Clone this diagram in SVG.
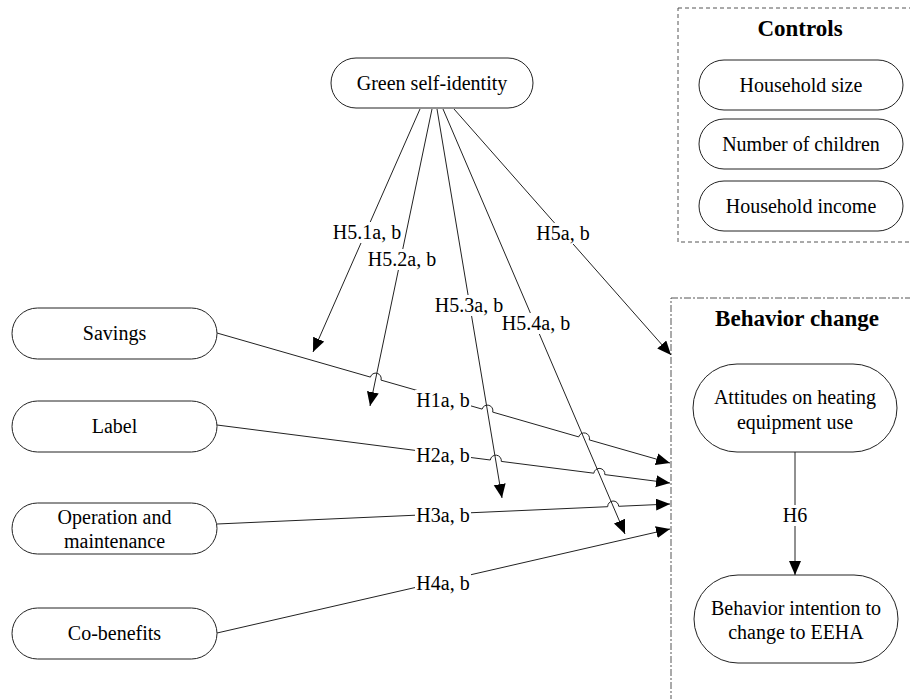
<svg xmlns="http://www.w3.org/2000/svg" width="910" height="699" viewBox="0 0 910 699">
<defs>
<marker id="arr" markerUnits="userSpaceOnUse" markerWidth="15" markerHeight="13" refX="14" refY="6" orient="auto">
<path d="M0,0 L14,6 L0,12 z" fill="#000"/>
</marker>
<style>
.node{fill:#fff;stroke:#222;stroke-width:1}
.t{font-size:20px;fill:#000;text-anchor:middle}
.title{font-size:23px;font-weight:bold;fill:#000;text-anchor:middle}
.edge{fill:none;stroke:#222;stroke-width:1}
.lbl{fill:#fff}
</style>
</defs>
<rect width="910" height="699" fill="#fff"/>
<g font-family="'Liberation Serif', 'Times New Roman', 'DejaVu Serif', serif">
<g id="controls-box">
<rect x="678" y="8" width="240" height="234" fill="none" stroke="#555" stroke-width="1" stroke-dasharray="4 3"/>
<text class="title" x="800" y="36">Controls</text>
</g>
<g id="behavior-box">
<rect x="671" y="298" width="250" height="420" fill="none" stroke="#555" stroke-width="1" stroke-dasharray="7 2 2 2"/>
<text class="title" x="797" y="326">Behavior change</text>
</g>

<g id="connectors">
<path class="edge" d="M420,109 L313,352" marker-end="url(#arr)"/>
<path class="edge" d="M432,109 L370,406" marker-end="url(#arr)"/>
<path class="edge" d="M437,109 L502,498" marker-end="url(#arr)"/>
<path class="edge" d="M443,109 L625,534" marker-end="url(#arr)"/>
<path class="edge" d="M454,109 L671,355" marker-end="url(#arr)"/>
<path class="edge" d="M217,333 L370.4,377.1 A5.5 5.5 0 0 1 381.0,380.1 L482.1,409.1 A5.5 5.5 0 0 1 492.7,412.1 L578.7,436.9 A5.5 5.5 0 0 1 589.3,439.9 L670,463" marker-end="url(#arr)"/>
<path class="edge" d="M217,425 L490.3,460.0 A5.5 5.5 0 0 1 501.3,461.4 L593.8,473.2 A5.5 5.5 0 0 1 604.8,474.6 L670,483" marker-end="url(#arr)"/>
<path class="edge" d="M217,524 L607.7,506.7 A5.5 5.5 0 0 1 618.7,506.3 L670,504" marker-end="url(#arr)"/>
<path class="edge" d="M217,633 L670,529" marker-end="url(#arr)"/>
<path class="edge" d="M795,452 L795,575" marker-end="url(#arr)"/>

<rect class="lbl" x="332" y="222" width="70" height="21"/>
<text class="t" x="367" y="239">H5.1a, b</text>
<rect class="lbl" x="367" y="249" width="70" height="21"/>
<text class="t" x="402" y="266">H5.2a, b</text>
<rect class="lbl" x="434" y="295" width="70" height="21"/>
<text class="t" x="469" y="312">H5.3a, b</text>
<rect class="lbl" x="501" y="313" width="70" height="21"/>
<text class="t" x="536" y="330">H5.4a, b</text>
<rect class="lbl" x="533" y="223" width="60" height="21"/>
<text class="t" x="563" y="240">H5a, b</text>
<rect class="lbl" x="415" y="390" width="56" height="21"/>
<text class="t" x="443" y="407">H1a, b</text>
<rect class="lbl" x="415" y="445" width="56" height="21"/>
<text class="t" x="443" y="462">H2a, b</text>
<rect class="lbl" x="415" y="505" width="56" height="21"/>
<text class="t" x="443" y="522">H3a, b</text>
<rect class="lbl" x="415" y="573" width="56" height="21"/>
<text class="t" x="443" y="590">H4a, b</text>
<rect class="lbl" x="780" y="505" width="30" height="21"/>
<text class="t" x="795" y="522">H6</text>
</g>

<g id="green">
<rect class="node" x="331" y="58" width="202" height="50" rx="25"/>
<text class="t" x="432" y="90">Green self-identity</text>
</g>
<g id="household-size">
<rect class="node" x="699" y="60" width="204" height="50" rx="25"/>
<text class="t" x="801" y="92">Household size</text>
</g>
<g id="children">
<rect class="node" x="699" y="119" width="204" height="50" rx="25"/>
<text class="t" x="801" y="151">Number of children</text>
</g>
<g id="income">
<rect class="node" x="699" y="181" width="204" height="50" rx="25"/>
<text class="t" x="801" y="213">Household income</text>
</g>
<g id="savings">
<rect class="node" x="12" y="308" width="205" height="51" rx="25.5"/>
<text class="t" x="114.5" y="340">Savings</text>
</g>
<g id="label">
<rect class="node" x="12" y="401" width="205" height="51" rx="25.5"/>
<text class="t" x="114.5" y="433">Label</text>
</g>
<g id="operation">
<rect class="node" x="12" y="503" width="205" height="51" rx="25.5"/>
<text class="t" x="114.5" y="524">Operation and</text>
<text class="t" x="114.5" y="548">maintenance</text>
</g>
<g id="cobenefits">
<rect class="node" x="12" y="608" width="205" height="51" rx="25.5"/>
<text class="t" x="114.5" y="640">Co-benefits</text>
</g>
<g id="attitudes">
<rect class="node" x="693" y="364" width="204" height="88" rx="44"/>
<text class="t" x="795" y="404">Attitudes on heating</text>
<text class="t" x="795" y="429">equipment use</text>
</g>
<g id="intention">
<rect class="node" x="694" y="575" width="204" height="88" rx="44"/>
<text class="t" x="796" y="615">Behavior intention to</text>
<text class="t" x="796" y="639">change to EEHA</text>
</g>
</g>
</svg>
